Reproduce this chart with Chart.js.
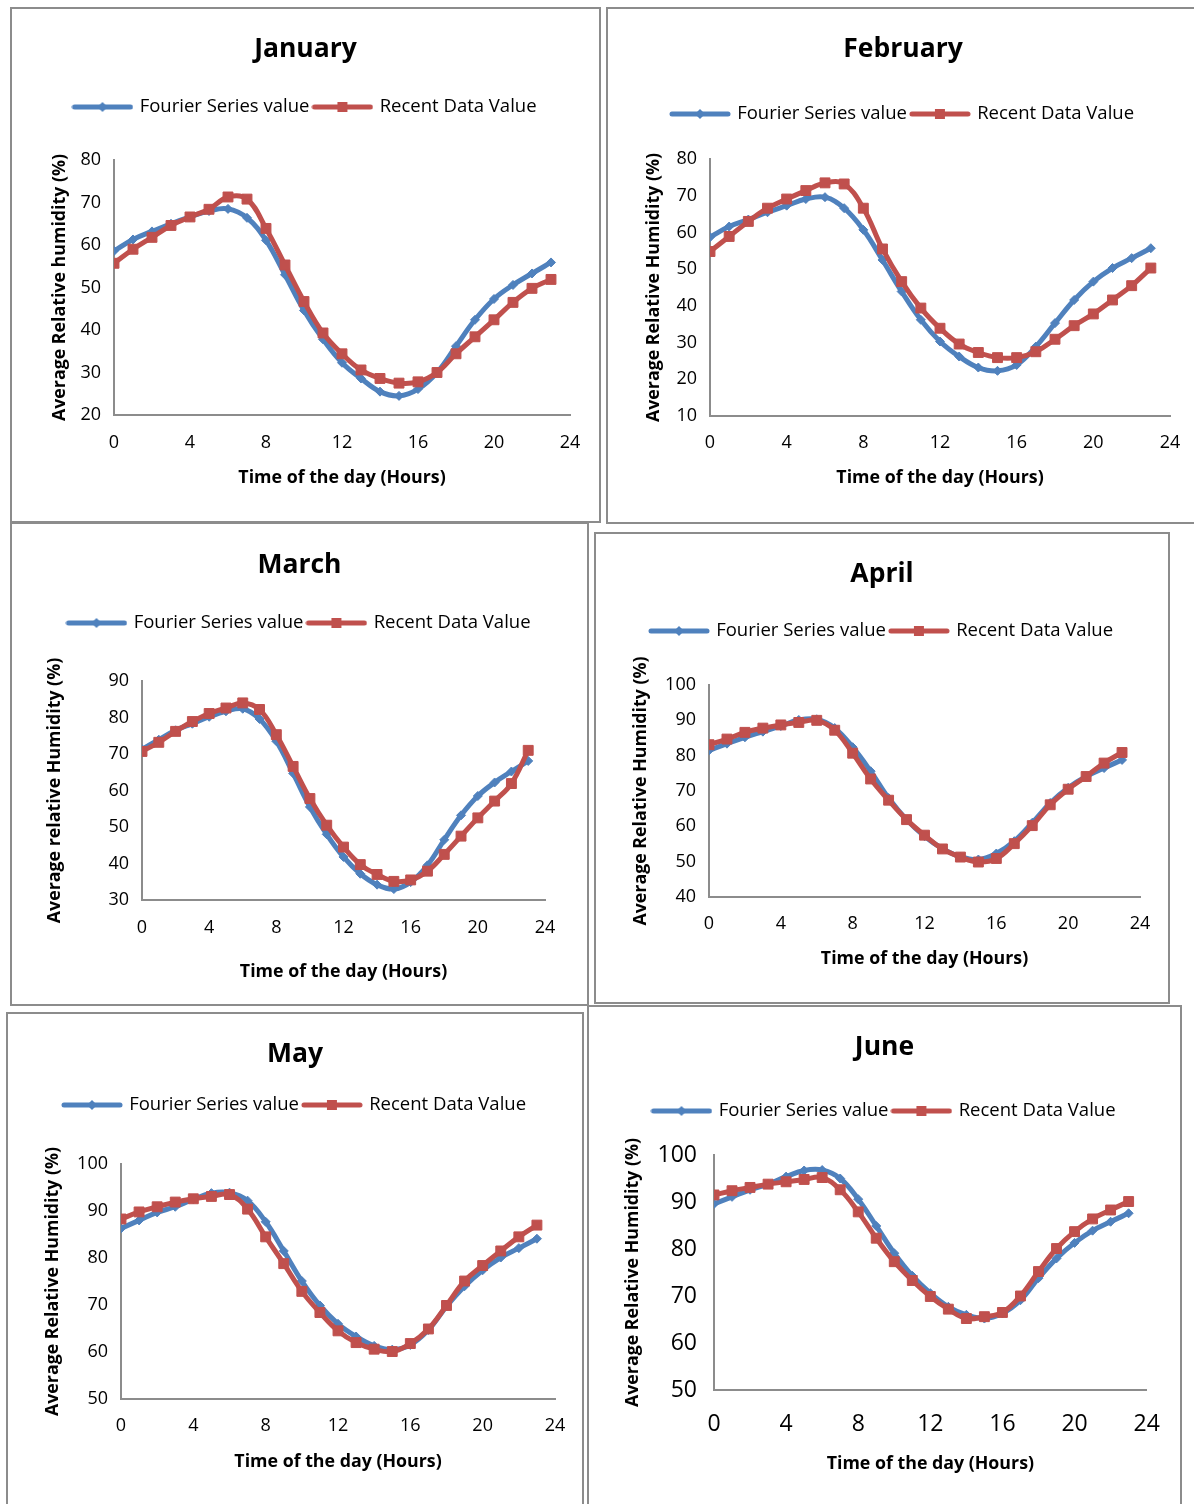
<!DOCTYPE html>
<html>
<head>
<meta charset="utf-8">
<script src="https://cdn.jsdelivr.net/npm/chart.js@4.4.1/dist/chart.umd.min.js"></script>
<style>
  html, body { margin: 0; padding: 0; background: #fff; }
  body { width: 1194px; height: 1504px; position: relative; overflow: hidden; }
  .panel { position: absolute; box-sizing: border-box; border: 2px solid #8c8c8c; background: #fff; }
  .panel canvas { position: absolute; left: 0; top: 0; }
</style>
</head>
<body>
<script>
// Hours of the day (x values)
const hours = [0, 1, 2, 3, 4, 5, 6, 7, 8, 9, 10, 11, 12, 13, 14, 15, 16, 17, 18, 19, 20, 21, 22, 23];

// Average relative humidity (%)
const janFourier = [58.6, 61.3, 63.2, 65.0, 66.6, 68.0, 68.5, 66.4, 61.1, 53.0, 44.6, 37.8, 32.3, 28.6, 25.5, 24.5, 26.1, 30.0, 36.2, 42.4, 47.3, 50.6, 53.3, 55.9];
const janRecent = [55.7, 59.0, 61.8, 64.6, 66.6, 68.4, 71.3, 70.8, 63.9, 55.3, 46.7, 39.3, 34.4, 30.6, 28.6, 27.5, 27.8, 30.0, 34.4, 38.4, 42.4, 46.5, 49.8, 51.9];

const febFourier = [58.7, 61.6, 63.5, 65.5, 67.3, 69.1, 69.6, 66.6, 60.7, 52.5, 43.9, 36.2, 30.3, 26.2, 23.2, 22.3, 23.9, 28.9, 35.3, 41.6, 46.6, 50.3, 53.0, 55.7];
const febRecent = [54.8, 58.9, 63.0, 66.6, 69.1, 71.4, 73.5, 73.2, 66.6, 55.5, 46.6, 39.4, 33.9, 29.6, 27.3, 25.9, 25.9, 27.5, 30.9, 34.6, 37.8, 41.6, 45.5, 50.3];

const marFourier = [71.3, 73.9, 76.5, 78.3, 80.2, 81.7, 82.4, 79.6, 73.5, 64.7, 55.5, 48.0, 41.8, 37.2, 34.2, 33.0, 34.9, 39.5, 46.5, 53.2, 58.5, 62.2, 65.2, 68.1];
const marRecent = [70.7, 73.2, 76.2, 78.9, 81.1, 82.6, 84.0, 82.2, 75.3, 66.6, 57.8, 50.5, 44.5, 39.7, 37.0, 35.1, 35.5, 37.9, 42.5, 47.5, 52.5, 57.1, 61.9, 71.0];

const aprFourier = [81.5, 83.4, 85.2, 86.8, 88.4, 90.1, 90.3, 87.8, 82.4, 75.6, 68.0, 61.9, 57.2, 53.7, 51.4, 50.6, 52.3, 55.8, 61.0, 66.6, 70.9, 74.1, 76.5, 78.8];
const aprRecent = [83.1, 84.7, 86.6, 87.8, 88.7, 89.4, 90.0, 87.2, 80.7, 73.4, 67.4, 61.9, 57.5, 53.6, 51.3, 49.9, 50.9, 55.1, 60.2, 66.1, 70.5, 74.1, 77.9, 80.9];

const mayFourier = [86.3, 88.0, 89.7, 90.9, 92.5, 93.8, 93.9, 92.2, 87.7, 81.5, 75.1, 69.9, 66.0, 63.3, 61.3, 60.5, 61.5, 64.7, 69.7, 74.0, 77.4, 80.1, 82.1, 84.1];
const mayRecent = [88.3, 89.8, 90.9, 91.9, 92.6, 93.1, 93.5, 90.4, 84.5, 78.8, 72.9, 68.4, 64.5, 62.0, 60.6, 60.1, 61.8, 64.9, 69.9, 75.1, 78.4, 81.5, 84.5, 87.0];

const junFourier = [89.6, 91.1, 92.6, 93.8, 95.4, 96.7, 96.8, 95.0, 90.6, 84.9, 79.1, 74.3, 70.6, 67.7, 66.0, 65.2, 66.3, 69.1, 73.8, 78.0, 81.3, 83.9, 85.8, 87.6];
const junRecent = [91.5, 92.4, 93.1, 93.8, 94.3, 94.8, 95.2, 92.6, 87.9, 82.3, 77.3, 73.3, 69.9, 67.2, 65.2, 65.6, 66.5, 70.0, 75.2, 80.1, 83.7, 86.4, 88.3, 90.1];

const seriesNames = ['Fourier Series value', 'Recent Data Value'];
const xTitle = 'Time of the day (Hours)';

// Common settings
const blue = '#4F81BD';
const red = '#C0504D';
const axisGrey = '#8c8c8c';
const fontFamily = '"Open Sans", Lato, sans-serif';

// One entry per chart box: frame = [left, top, right, bottom] of the border box,
// plot = [x of 0, x of 24, y of max, y of min], all in page pixels
const panels = [
    { title: 'January', fourier: janFourier, recent: janRecent, yMin: 20, yMax: 80, yTitle: 'Average Relative humidity (%)',
      frame: [10, 7, 601, 523], plot: [114, 570, 160, 415], titleY: 47, legendY: 106, xTitleY: 478, yTitleX: 60, xTickY: 443, tickSize: 18 },
    { title: 'February', fourier: febFourier, recent: febRecent, yMin: 10, yMax: 80, yTitle: 'Average Relative Humidity (%)',
      frame: [606, 7, 1200, 524], plot: [710, 1170, 159, 416], titleY: 47, legendY: 113, xTitleY: 478, yTitleX: 654, xTickY: 443, tickSize: 18 },
    { title: 'March', fourier: marFourier, recent: marRecent, yMin: 30, yMax: 90, yTitle: 'Average relative Humidity (%)',
      frame: [10, 522, 589, 1006], plot: [142, 545, 681, 900], titleY: 563, legendY: 622, xTitleY: 972, yTitleX: 55, xTickY: 928, tickSize: 18 },
    { title: 'April', fourier: aprFourier, recent: aprRecent, yMin: 40, yMax: 100, yTitle: 'Average Relative Humidity (%)',
      frame: [594, 532, 1170, 1004], plot: [709, 1140, 685, 897], titleY: 572, legendY: 630, xTitleY: 959, yTitleX: 641, xTickY: 924, tickSize: 18 },
    { title: 'May', fourier: mayFourier, recent: mayRecent, yMin: 50, yMax: 100, yTitle: 'Average Relative Humidity (%)',
      frame: [6, 1012, 584, 1512], plot: [121, 555, 1164, 1399], titleY: 1052, legendY: 1104, xTitleY: 1462, yTitleX: 53, xTickY: 1426, tickSize: 18 },
    { title: 'June', fourier: junFourier, recent: junRecent, yMin: 50, yMax: 100, yTitle: 'Average Relative Humidity (%)',
      frame: [587, 1005, 1182, 1512], plot: [714, 1152, 1155, 1390], titleY: 1045, legendY: 1110, xTitleY: 1464, yTitleX: 633, xTickY: 1424, tickSize: 23 }
];

// Legend samples: thick line with the series marker in the middle
function legendIcon(color, shape) {
    const c = document.createElement('canvas');
    c.width = 62; c.height = 14;
    const g = c.getContext('2d');
    g.strokeStyle = color;
    g.lineWidth = 5;
    g.lineCap = 'round';
    g.beginPath(); g.moveTo(3, 7); g.lineTo(59, 7); g.stroke();
    g.fillStyle = color;
    if (shape === 'square') {
        g.fillRect(26, 2, 10, 10);
    } else {
        g.beginPath(); g.moveTo(31, 2); g.lineTo(36, 7); g.lineTo(31, 12); g.lineTo(26, 7); g.closePath(); g.fill();
    }
    return c;
}
const icons = [legendIcon(blue, 'diamond'), legendIcon(red, 'square')];

const titleSize = 26.5, legendSize = 18.5, axisTitleSize = 17.8, legendPad = 5;

// invisible spacer axis, used to hold exact gaps around the plot area
function spacer(position, size) {
    return {
        type: 'linear',
        position: position,
        display: true,
        grid: { display: false, drawTicks: false },
        border: { display: false },
        ticks: { display: false },
        afterFit: s => { if (s.isHorizontal()) s.height = size; else s.width = size; }
    };
}

panels.forEach(p => {
    const [fl, ft, fr, fb] = p.frame;
    const [px0, px24, pyTop, pyBot] = p.plot;
    const div = document.createElement('div');
    div.className = 'panel';
    div.style.left = fl + 'px';
    div.style.top = ft + 'px';
    div.style.width = (fr - fl) + 'px';
    div.style.height = (fb - ft) + 'px';
    const canvas = document.createElement('canvas');
    const cx0 = fl + 2, cy0 = ft + 2;
    const cw = fr - fl - 4, ch = fb - ft - 4;
    canvas.width = cw; canvas.height = ch;
    div.appendChild(canvas);
    document.body.appendChild(div);

    const titleY = p.titleY + 2, legendY = p.legendY + 1;
    const titleLH = titleSize * 1.2;
    const titlePadTop = titleY - cy0 - titleLH / 2;
    const titlePadBottom = legendY - cy0 - legendPad - legendSize / 2 - titleLH - titlePadTop;
    const legendBottom = legendY + legendSize / 2 + 10;
    const gapHeight = pyTop - legendBottom;
    const rightGap = cw - (px24 - cx0);
    const axisLH = axisTitleSize * 1.2;

    new Chart(canvas, {
        type: 'line',
        data: {
            datasets: [
                {
                    label: seriesNames[0],
                    data: hours.map((h, i) => ({ x: h, y: p.fourier[i] })),
                    borderColor: blue,
                    backgroundColor: blue,
                    borderWidth: 5,
                    tension: 0.4,
                    pointStyle: 'rectRot',
                    pointRadius: 4.5,
                    pointBorderWidth: 1,
                    order: 1
                },
                {
                    label: seriesNames[1],
                    data: hours.map((h, i) => ({ x: h, y: p.recent[i] })),
                    borderColor: red,
                    backgroundColor: red,
                    borderWidth: 5,
                    tension: 0.4,
                    pointStyle: 'rect',
                    pointRadius: 7,
                    pointBorderWidth: 1,
                    order: 0
                }
            ]
        },
        options: {
            responsive: false,
            animation: false,
            layout: { padding: 0 },
            plugins: {
                tooltip: { enabled: false },
                title: {
                    display: true,
                    text: p.title,
                    color: '#000',
                    font: { family: fontFamily, size: titleSize, weight: 'bold', lineHeight: 1.2 },
                    padding: { top: titlePadTop, bottom: titlePadBottom }
                },
                legend: {
                    position: 'top',
                    labels: {
                        color: '#000',
                        font: { family: fontFamily, size: legendSize },
                        padding: legendPad,
                        usePointStyle: true,
                        pointStyleWidth: 56,
                        sort: (a, b) => a.datasetIndex - b.datasetIndex,
                        generateLabels: chart => Chart.defaults.plugins.legend.labels.generateLabels(chart)
                            .map(l => Object.assign(l, { pointStyle: icons[l.datasetIndex] }))
                    }
                }
            },
            scales: {
                x: {
                    type: 'linear',
                    position: 'bottom',
                    min: 0,
                    max: 24,
                    grid: { display: false, drawTicks: false },
                    border: { color: axisGrey, width: 2 },
                    ticks: { stepSize: 4, color: '#000', padding: p.xTickY - pyBot - p.tickSize * 0.6, font: { family: fontFamily, size: p.tickSize } },
                    title: {
                        display: true, text: xTitle, color: '#000',
                        font: { family: fontFamily, size: axisTitleSize, weight: 'bold', lineHeight: 1.2 },
                        padding: { top: 0, bottom: cy0 + ch - p.xTitleY - axisLH / 2 }
                    },
                    afterFit: s => { s.height = cy0 + ch - pyBot; }
                },
                y: {
                    min: p.yMin,
                    max: p.yMax,
                    grid: { display: false, drawTicks: false },
                    border: { color: axisGrey, width: 2 },
                    ticks: { stepSize: 10, color: '#000', padding: p.tickSize > 20 ? 17 : 13, font: { family: fontFamily, size: p.tickSize } },
                    title: {
                        display: true, text: p.yTitle, color: '#000',
                        font: { family: fontFamily, size: axisTitleSize, weight: 'bold', lineHeight: 1.2 },
                        padding: { top: p.yTitleX - cx0 - axisLH / 2, bottom: 0 }
                    },
                    afterFit: s => { s.width = px0 - cx0; }
                },
                gapTop: spacer('top', gapHeight),
                gapRight: spacer('right', rightGap)
            }
        }
    });
});
</script>
</body>
</html>
